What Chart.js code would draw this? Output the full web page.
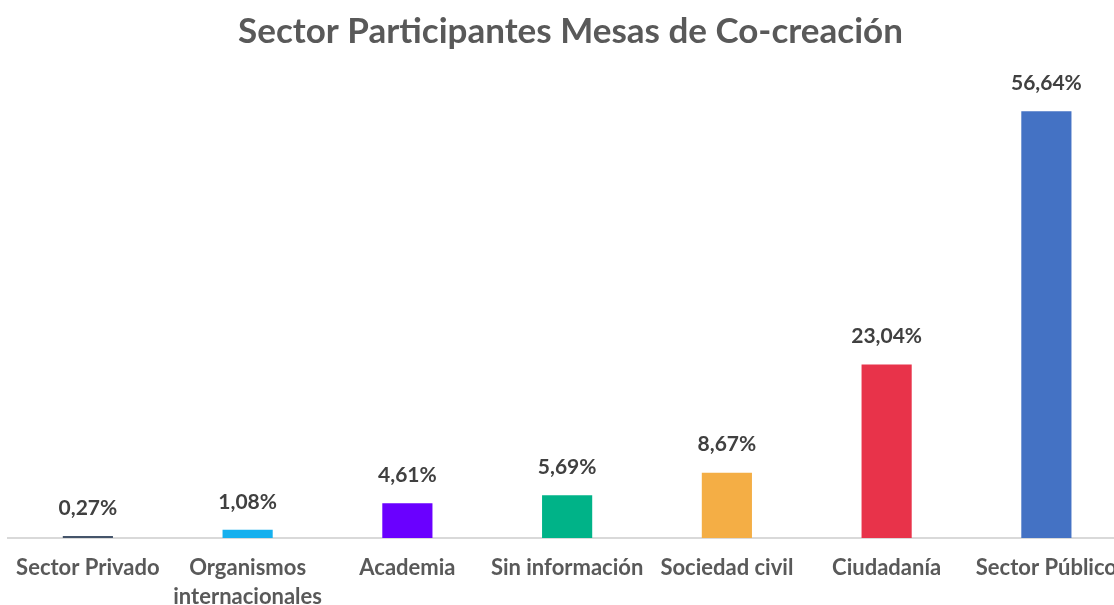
<!DOCTYPE html>
<html>
<head>
<meta charset="utf-8">
<script src="https://cdn.jsdelivr.net/npm/chart.js@4/dist/chart.umd.min.js"></script>
<style>
  html, body { margin: 0; padding: 0; background: #fff; overflow: hidden; }
  canvas { display: block; }
</style>
</head>
<body>
<canvas id="myChart" width="1133" height="605"></canvas>
<script>
// data
const sectores = ['Sector Privado', ['Organismos', 'internacionales'], 'Academia', 'Sin información', 'Sociedad civil', 'Ciudadanía', 'Sector Público'];
const porcentajes = [0.27, 1.08, 4.61, 5.69, 8.67, 23.04, 56.64];
const colores = ['#44546a', '#16b0ee', '#6a00ff', '#00b388', '#f4ae45', '#e8334a', '#4472c4'];

const fuente = 'Lato, "Open Sans", sans-serif';

// labels above bars (no datalabels plugin here)
const etiquetas = {
  id: 'etiquetas',
  afterDatasetsDraw(chart) {
    const ctx = chart.ctx;
    const meta = chart.getDatasetMeta(0);
    ctx.save();
    ctx.font = 'bold 21px ' + fuente;
    ctx.fillStyle = '#404040';
    ctx.textAlign = 'center';
    ctx.textBaseline = 'middle';
    meta.data.forEach((bar, i) => {
      let txt = porcentajes[i].toFixed(2).replace('.', ',') + '%';
      ctx.fillText(txt, bar.x, bar.y - 28);
    });
    ctx.restore();
  }
};

var ctx = document.getElementById('myChart');
var grafico = new Chart(ctx, {
  type: 'bar',
  data: {
    labels: sectores,
    datasets: [{
      data: porcentajes,
      backgroundColor: colores,
      borderWidth: 0,
      barPercentage: 0.314,
      categoryPercentage: 1
    }]
  },
  options: {
    responsive: false,
    animation: false,
    devicePixelRatio: 1,
    layout: { autoPadding: false, padding: { left: 8, right: 0, top: 0, bottom: 0 } },
    plugins: {
      legend: { display: false },
      tooltip: { enabled: false },
      title: {
        display: true,
        text: 'Sector Participantes Mesas de Co-creación',
        color: '#595959',
        font: { family: fuente, size: 35, weight: 'bold', lineHeight: 1.2 },
        padding: { top: 11, bottom: 33 }
      }
    },
    scales: {
      x: {
        grid: { display: false, drawTicks: false },
        border: { display: true, color: '#d9d9d9', width: 2 },
        ticks: {
          color: '#595959',
          font: { family: fuente, size: 22, weight: 'bold', lineHeight: 1.3 },
          padding: 16,
          maxRotation: 0,
          autoSkip: false
        },
        afterFit(scale) { scale.height = 67; }
      },
      y: {
        display: false,
        min: 0,
        max: 60
      }
    }
  },
  plugins: [etiquetas]
});
</script>
</body>
</html>
